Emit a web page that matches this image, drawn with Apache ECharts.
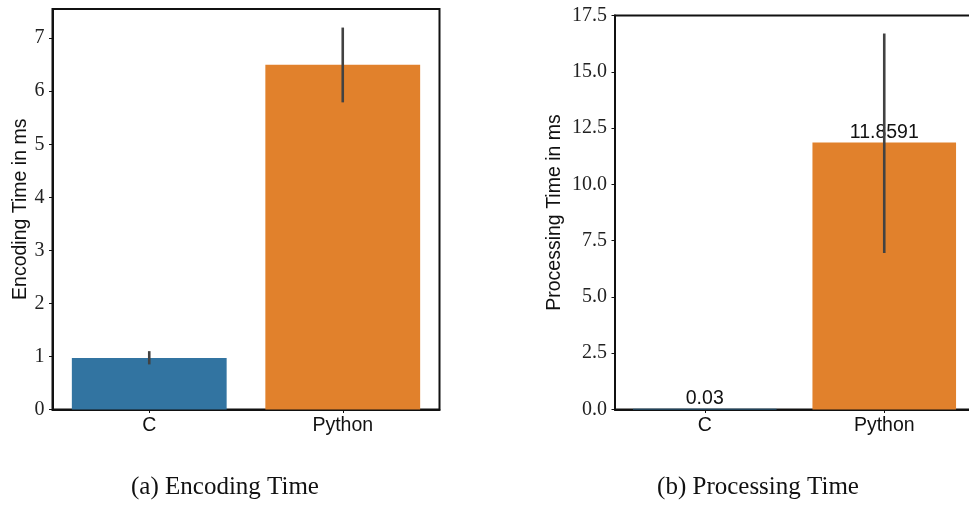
<!DOCTYPE html>
<html>
<head>
<meta charset="utf-8">
<script src="https://cdn.jsdelivr.net/npm/echarts@6/dist/echarts.min.js"></script>
<style>
html,body{margin:0;padding:0;background:#fff;overflow:hidden;}
#chart{width:1000px;height:505px;}
</style>
</head>
<body>
<div id="chart"></div>
<script>
// ---- data ----
var categories = ['C', 'Python'];
var encodingValues = [0.97, 6.50];
var encodingErrLow = [0.85, 5.79];
var encodingErrHigh = [1.10, 7.20];
var processingValues = [0.03, 11.8591];
var processingErrLow = [null, 6.95];
var processingErrHigh = [null, 16.70];
var processingLabels = ['0.03', '11.8591'];
var encodingTicks = [0, 1, 2, 3, 4, 5, 6, 7];
var processingTicks = ['0.0', '2.5', '5.0', '7.5', '10.0', '12.5', '15.0', '17.5'];
var captions = ['(a) Encoding Time', '(b) Processing Time'];
var colors = ['#3274a1', '#e1812c'];

var serif = 'Liberation Serif';
var sans = 'Liberation Sans';

function errData(lo, hi) {
  var out = [];
  for (var i = 0; i < lo.length; i++) {
    if (lo[i] != null) out.push([i, lo[i], hi[i]]);
  }
  return out;
}

function errRender(params, api) {
  var p1 = api.coord([api.value(0), api.value(1)]);
  var p2 = api.coord([api.value(0), api.value(2)]);
  return {
    type: 'line',
    shape: {x1: p1[0], y1: p1[1], x2: p2[0], y2: p2[1]},
    style: {stroke: '#424242', lineWidth: 2.6}
  };
}

function xAxisCfg(gi) {
  return {
    type: 'category', gridIndex: gi, data: categories,
    axisLine: {show: true, lineStyle: {color: '#111', width: 2}},
    axisTick: {show: true, alignWithLabel: true, length: 3.5, lineStyle: {color: '#111', width: 1}},
    axisLabel: {fontFamily: sans, fontSize: 19.5, color: '#111', margin: 6},
    splitLine: {show: false}
  };
}

var chart = echarts.init(document.getElementById('chart'), null, {renderer: 'canvas'});
chart.setOption({
  animation: false,
  backgroundColor: '#fff',
  grid: [
    {left: 52.5, top: 9, width: 387, height: 400.5, show: true, borderColor: '#111', borderWidth: 2, backgroundColor: 'transparent'},
    {left: 615, top: 15.5, width: 359, height: 394, show: true, borderColor: '#111', borderWidth: 2, backgroundColor: 'transparent'}
  ],
  xAxis: [xAxisCfg(0), xAxisCfg(1)],
  yAxis: [
    {
      type: 'value', gridIndex: 0, min: 0, max: 7.55, interval: 1,
      name: 'Encoding Time in ms', nameLocation: 'middle', nameGap: 22,
      nameTextStyle: {fontFamily: sans, fontSize: 19.5, color: '#111'},
      axisLine: {show: true, lineStyle: {color: '#111', width: 2}},
      axisTick: {show: true, length: 3.5, lineStyle: {color: '#111', width: 1}},
      axisLabel: {fontFamily: serif, fontSize: 20, color: '#222', margin: 8, showMaxLabel: false,
        formatter: function (v) { var i = encodingTicks.indexOf(v); return i >= 0 ? String(encodingTicks[i]) : ''; }},
      splitLine: {show: false}
    },
    {
      type: 'value', gridIndex: 1, min: 0, max: 17.5, interval: 2.5,
      name: 'Processing Time in ms', nameLocation: 'middle', nameGap: 50,
      nameTextStyle: {fontFamily: sans, fontSize: 19.5, color: '#111'},
      axisLine: {show: true, lineStyle: {color: '#111', width: 2}},
      axisTick: {show: true, length: 3.5, lineStyle: {color: '#111', width: 1}},
      axisLabel: {fontFamily: serif, fontSize: 20, color: '#222', margin: 8,
        formatter: function (v) { var i = Math.round(v / 2.5); return processingTicks[i] || ''; }},
      splitLine: {show: false}
    }
  ],
  series: [
    {
      type: 'bar', xAxisIndex: 0, yAxisIndex: 0, barCategoryGap: '20%',
      data: encodingValues.map(function (v, i) { return {value: v, itemStyle: {color: colors[i]}}; })
    },
    {
      type: 'custom', xAxisIndex: 0, yAxisIndex: 0, renderItem: errRender,
      data: errData(encodingErrLow, encodingErrHigh), z: 5
    },
    {
      type: 'bar', xAxisIndex: 1, yAxisIndex: 1, barCategoryGap: '20%',
      data: processingValues.map(function (v, i) { return {value: v, itemStyle: {color: colors[i]}}; }),
      label: {show: true, position: 'top', distance: 0, fontFamily: sans, fontSize: 19.5, color: '#111',
        formatter: function (p) { return processingLabels[p.dataIndex]; }}
    },
    {
      type: 'custom', xAxisIndex: 1, yAxisIndex: 1, renderItem: errRender,
      data: errData(processingErrLow, processingErrHigh), z: 5
    }
  ],
  graphic: [
    {type: 'text', style: {text: captions[0], font: '25px "' + serif + '"', fill: '#111', textAlign: 'center', textVerticalAlign: 'middle', x: 225, y: 487}},
    {type: 'text', style: {text: captions[1], font: '25px "' + serif + '"', fill: '#111', textAlign: 'center', textVerticalAlign: 'middle', x: 758, y: 487}}
  ]
});
</script>
</body>
</html>
